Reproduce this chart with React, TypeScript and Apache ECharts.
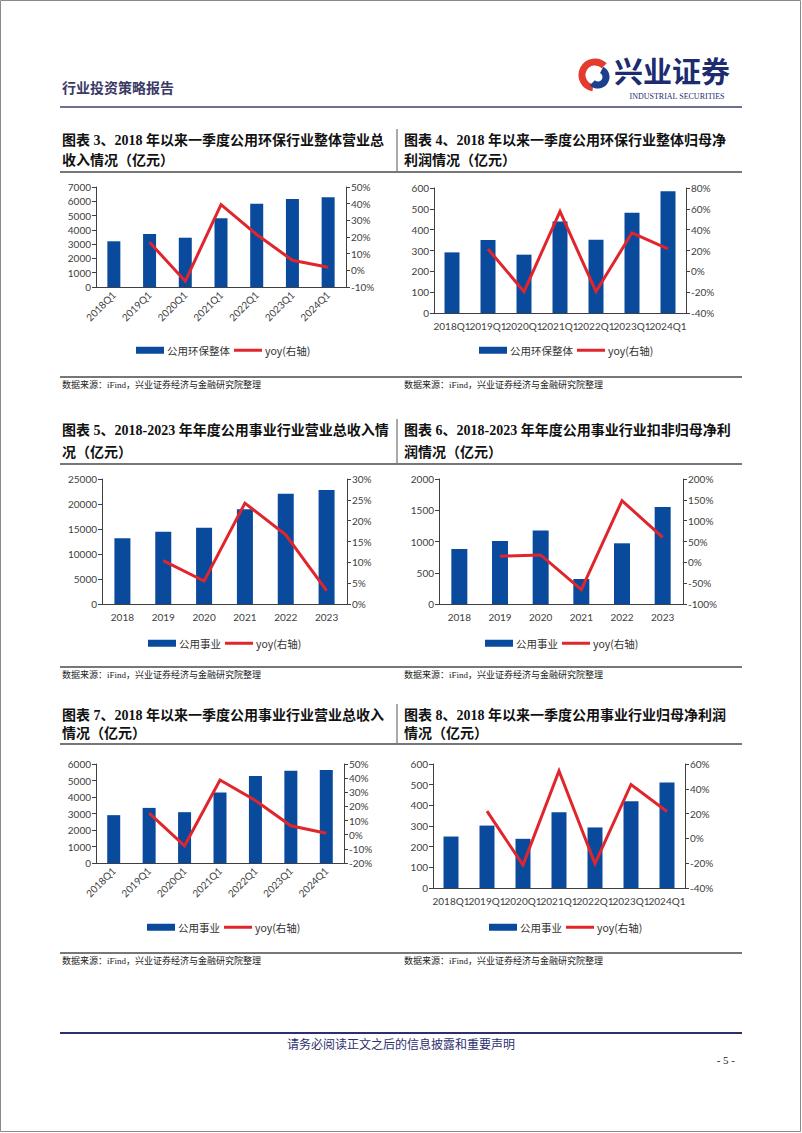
import React, { useEffect, useRef } from "react";
import * as echarts from "echarts";

// ---------- data ----------
const quarters = ["2018Q1", "2019Q1", "2020Q1", "2021Q1", "2022Q1", "2023Q1", "2024Q1"];
const years = ["2018", "2019", "2020", "2021", "2022", "2023"];

const envRevenueQ1 = [3200, 3710, 3450, 4810, 5830, 6160, 6280];
const envRevenueQ1Yoy = [null, 16.8, -6.5, 39.4, 21.5, 6.0, 1.8];
const envProfitQ1 = [291, 351, 280, 439, 352, 481, 584];
const envProfitQ1Yoy = [null, 21.5, -19.5, 57.5, -19.5, 37.0, 21.5];
const utilRevenueAnnual = [13130, 14470, 15270, 18930, 22070, 22800];
const utilRevenueAnnualYoy = [null, 10.4, 5.5, 24.2, 16.6, 3.2];
const utilProfitAnnual = [880, 1008, 1178, 400, 971, 1552];
const utilProfitAnnualYoy = [null, 14.8, 17.8, -65.5, 148, 60];
const utilRevenueQ1 = [2900, 3340, 3080, 4270, 5275, 5597, 5640];
const utilRevenueQ1Yoy = [null, 15.3, -7.8, 38.7, 24.2, 6.3, 1.0];
const utilProfitQ1 = [249, 302, 238, 367, 293, 420, 511];
const utilProfitQ1Yoy = [null, 22.0, -21.5, 54.4, -20.4, 43.5, 21.7];

// axis ranges [min, max, interval]
const leftAxes = [
  [0, 7000, 1000],
  [0, 600, 100],
  [0, 25000, 5000],
  [0, 2000, 500],
  [0, 6000, 1000],
  [0, 600, 100],
];
const rightAxes = [
  [-10, 50, 10],
  [-40, 80, 20],
  [0, 30, 5],
  [-100, 200, 50],
  [-20, 50, 10],
  [-40, 60, 20],
];

const barNames = ["公用环保整体", "公用环保整体", "公用事业", "公用事业", "公用事业", "公用事业"];
const yoyName = "yoy(右轴)";
const categories = [quarters, quarters, years, years, quarters, quarters];
const barData = [envRevenueQ1, envProfitQ1, utilRevenueAnnual, utilProfitAnnual, utilRevenueQ1, utilProfitQ1];
const yoyData = [envRevenueQ1Yoy, envProfitQ1Yoy, utilRevenueAnnualYoy, utilProfitAnnualYoy, utilRevenueQ1Yoy, utilProfitQ1Yoy];

const titles = [
  ["图表 3、2018 年以来一季度公用环保行业整体营业总", "收入情况（亿元）"],
  ["图表 4、2018 年以来一季度公用环保行业整体归母净", "利润情况（亿元）"],
  ["图表 5、2018-2023 年年度公用事业行业营业总收入情", "况（亿元）"],
  ["图表 6、2018-2023 年年度公用事业行业扣非归母净利", "润情况（亿元）"],
  ["图表 7、2018 年以来一季度公用事业行业营业总收入", "情况（亿元）"],
  ["图表 8、2018 年以来一季度公用事业行业归母净利润", "情况（亿元）"],
];
const sourceText = "数据来源：iFind，兴业证券经济与金融研究院整理";

// ---------- layout ----------
const layouts = [
  { grid: { left: 96, top: 187, width: 250, height: 100 }, rotate: 45, barWidth: 13, legend: { left: 136, top: 345 } },
  { grid: { left: 434, top: 188, width: 252, height: 125 }, rotate: 0, barWidth: 15, legend: { left: 479, top: 345 } },
  { grid: { left: 102, top: 479, width: 245, height: 125 }, rotate: 0, barWidth: 16, legend: { left: 148, top: 638 } },
  { grid: { left: 439, top: 479, width: 244, height: 125 }, rotate: 0, barWidth: 16, legend: { left: 485, top: 638 } },
  { grid: { left: 96, top: 764, width: 248, height: 99 }, rotate: 45, barWidth: 13, legend: { left: 147, top: 922 } },
  { grid: { left: 433, top: 764, width: 252, height: 124 }, rotate: 0, barWidth: 15, legend: { left: 489, top: 922 } },
];
const rows = [
  { t1: 140, t2: 160, line: 172, sepTop: 129, src: 377 },
  { t1: 430, t2: 452, line: 464, sepTop: 419, src: 667 },
  { t1: 715, t2: 733, line: 744, sepTop: 704, src: 953 },
];

const BAR = "#0a4a9c";
const RED = "#e0262c";
const AXIS = "#404040";
const LABEL_FONT = "Lato, 'Liberation Sans', sans-serif";
const CJK = "'Noto Sans CJK SC', sans-serif";
const TITLE_FONT = "'Liberation Serif', 'Noto Sans CJK SC', serif";
// legend line icon: a 3px-thick bar inside a 28x7 box
const LINE_ICON = "path://M0,0L0,0M0,2L28,2L28,5L0,5ZM28,7L28,7";

function buildOption() {
  const grid: any[] = [];
  const xAxis: any[] = [];
  const yAxis: any[] = [];
  const series: any[] = [];
  const legend: any[] = [];

  layouts.forEach((lay, i) => {
    grid.push({ ...lay.grid, containLabel: false, outerBoundsMode: "none" });
    xAxis.push({
      type: "category",
      gridIndex: i,
      data: categories[i],
      boundaryGap: true,
      axisLine: { lineStyle: { color: AXIS, width: 1 } },
      axisTick: { show: false },
      axisLabel: {
        rotate: lay.rotate,
        interval: 0,
        margin: lay.rotate ? 6 : 8,
        color: AXIS,
        fontSize: 10,
        fontFamily: LABEL_FONT,
      },
    });
    const [lmin, lmax, lint] = leftAxes[i];
    const [rmin, rmax, rint] = rightAxes[i];
    yAxis.push({
      type: "value",
      gridIndex: i,
      position: "left",
      min: lmin,
      max: lmax,
      interval: lint,
      splitLine: { show: false },
      axisLine: { show: true, lineStyle: { color: AXIS, width: 1 } },
      axisTick: { show: true, length: 4, lineStyle: { color: AXIS } },
      axisLabel: { color: AXIS, fontSize: 10, margin: 5, fontFamily: LABEL_FONT, formatter: (v: number) => String(v) },
    });
    yAxis.push({
      type: "value",
      gridIndex: i,
      position: "right",
      min: rmin,
      max: rmax,
      interval: rint,
      splitLine: { show: false },
      axisLine: { show: true, lineStyle: { color: AXIS, width: 1 } },
      axisTick: { show: true, length: 4, lineStyle: { color: AXIS } },
      axisLabel: { color: AXIS, fontSize: 10, margin: 5, fontFamily: LABEL_FONT, formatter: (v: number) => `${v}%` },
    });
    series.push({
      type: "bar",
      name: barNames[i],
      xAxisIndex: i,
      yAxisIndex: 2 * i,
      data: barData[i],
      barWidth: lay.barWidth,
      itemStyle: { color: BAR },
    });
    series.push({
      type: "line",
      name: yoyName,
      xAxisIndex: i,
      yAxisIndex: 2 * i + 1,
      data: yoyData[i],
      symbol: "none",
      lineStyle: { color: RED, width: 3, join: "miter" },
      itemStyle: { color: RED },
    });
    legend.push({
      left: lay.legend.left,
      top: lay.legend.top,
      padding: 0,
      orient: "horizontal",
      data: [
        { name: barNames[i], icon: "rect" },
        { name: yoyName, icon: LINE_ICON, itemStyle: { color: RED, borderWidth: 0 } },
      ],
      itemWidth: 28,
      itemHeight: 7,
      itemGap: 4,
      selectedMode: false,
      textStyle: { fontSize: 10.5, color: "#333", fontFamily: CJK, padding: [0, 0, 0, -2] },
    });
  });

  const graphic: any[] = [];
  // page border
  graphic.push({ type: "rect", silent: true, shape: { x: 0.5, y: 0.5, width: 800, height: 1131 }, style: { fill: null, stroke: "#8a8a8a", lineWidth: 1 } });
  // header
  graphic.push({ type: "text", x: 62, y: 87, style: { text: "行业投资策略报告", font: `bold 14px ${CJK}`, fill: "#3a3a66", textVerticalAlign: "middle" } });
  graphic.push({ type: "line", shape: { x1: 60, y1: 107, x2: 742, y2: 107 }, style: { stroke: "#6d7090", lineWidth: 2 } });
  // logo
  graphic.push({ type: "arc", shape: { cx: 595, cy: 75, r: 13, startAngle: Math.PI * 0.55, endAngle: Math.PI * 1.75 }, style: { stroke: "#e33b2e", lineWidth: 7, fill: null } });
  graphic.push({ type: "arc", shape: { cx: 598, cy: 77, r: 8, startAngle: -Math.PI * 0.35, endAngle: Math.PI * 0.75 }, style: { stroke: "#1d3f8e", lineWidth: 7, fill: null } });
  graphic.push({ type: "text", x: 614, y: 70, style: { text: "兴业证券", font: `bold 29px ${CJK}`, fill: "#1c2c6e", textVerticalAlign: "middle" } });
  graphic.push({ type: "text", x: 677, y: 96, style: { text: "INDUSTRIAL SECURITIES", font: `8px 'Liberation Serif', serif`, fill: "#1c2c6e", textAlign: "center", textVerticalAlign: "middle" } });

  rows.forEach((r, ri) => {
    const lt = titles[ri * 2];
    const rt = titles[ri * 2 + 1];
    const tf = `bold 14px ${TITLE_FONT}`;
    graphic.push({ type: "text", x: 62, y: r.t1, style: { text: lt[0], font: tf, fill: "#111", textVerticalAlign: "middle" } });
    graphic.push({ type: "text", x: 62, y: r.t2, style: { text: lt[1], font: tf, fill: "#111", textVerticalAlign: "middle" } });
    graphic.push({ type: "text", x: 404, y: r.t1, style: { text: rt[0], font: tf, fill: "#111", textVerticalAlign: "middle" } });
    graphic.push({ type: "text", x: 404, y: r.t2, style: { text: rt[1], font: tf, fill: "#111", textVerticalAlign: "middle" } });
    graphic.push({ type: "line", shape: { x1: 397, y1: r.sepTop, x2: 397, y2: r.line }, style: { stroke: "#555", lineWidth: 1 } });
    graphic.push({ type: "line", shape: { x1: 60, y1: r.line, x2: 742, y2: r.line }, style: { stroke: "#777", lineWidth: 2 } });
    graphic.push({ type: "line", shape: { x1: 60, y1: r.src, x2: 742, y2: r.src }, style: { stroke: "#777", lineWidth: 2 } });
    graphic.push({ type: "text", x: 62, y: r.src + 8, style: { text: sourceText, font: `9px ${TITLE_FONT}`, fill: "#222", textVerticalAlign: "middle" } });
    graphic.push({ type: "text", x: 404, y: r.src + 8, style: { text: sourceText, font: `9px ${TITLE_FONT}`, fill: "#222", textVerticalAlign: "middle" } });
  });

  // footer
  graphic.push({ type: "line", shape: { x1: 60, y1: 1033, x2: 742, y2: 1033 }, style: { stroke: "#2b2f6e", lineWidth: 2 } });
  graphic.push({ type: "text", x: 401, y: 1045, style: { text: "请务必阅读正文之后的信息披露和重要声明", font: `12px ${TITLE_FONT}`, fill: "#2b2f6e", textAlign: "center", textVerticalAlign: "middle" } });
  graphic.push({ type: "text", x: 735, y: 1060, style: { text: "- 5 -", font: `11px 'Liberation Serif', serif`, fill: "#222", textAlign: "right", textVerticalAlign: "middle" } });

  return {
    animation: false,
    backgroundColor: "#ffffff",
    grid,
    xAxis,
    yAxis,
    series,
    legend,
    graphic,
  };
}

export default function App() {
  const ref = useRef<HTMLDivElement>(null);
  useEffect(() => {
    if (!ref.current) return;
    const chart = echarts.init(ref.current, null, { renderer: "svg" });
    chart.setOption(buildOption() as any);
    return () => chart.dispose();
  }, []);
  return (
    <div
      ref={ref}
      style={{ position: "absolute", left: 0, top: 0, width: 802, height: 1133, background: "#fff" }}
    />
  );
}
